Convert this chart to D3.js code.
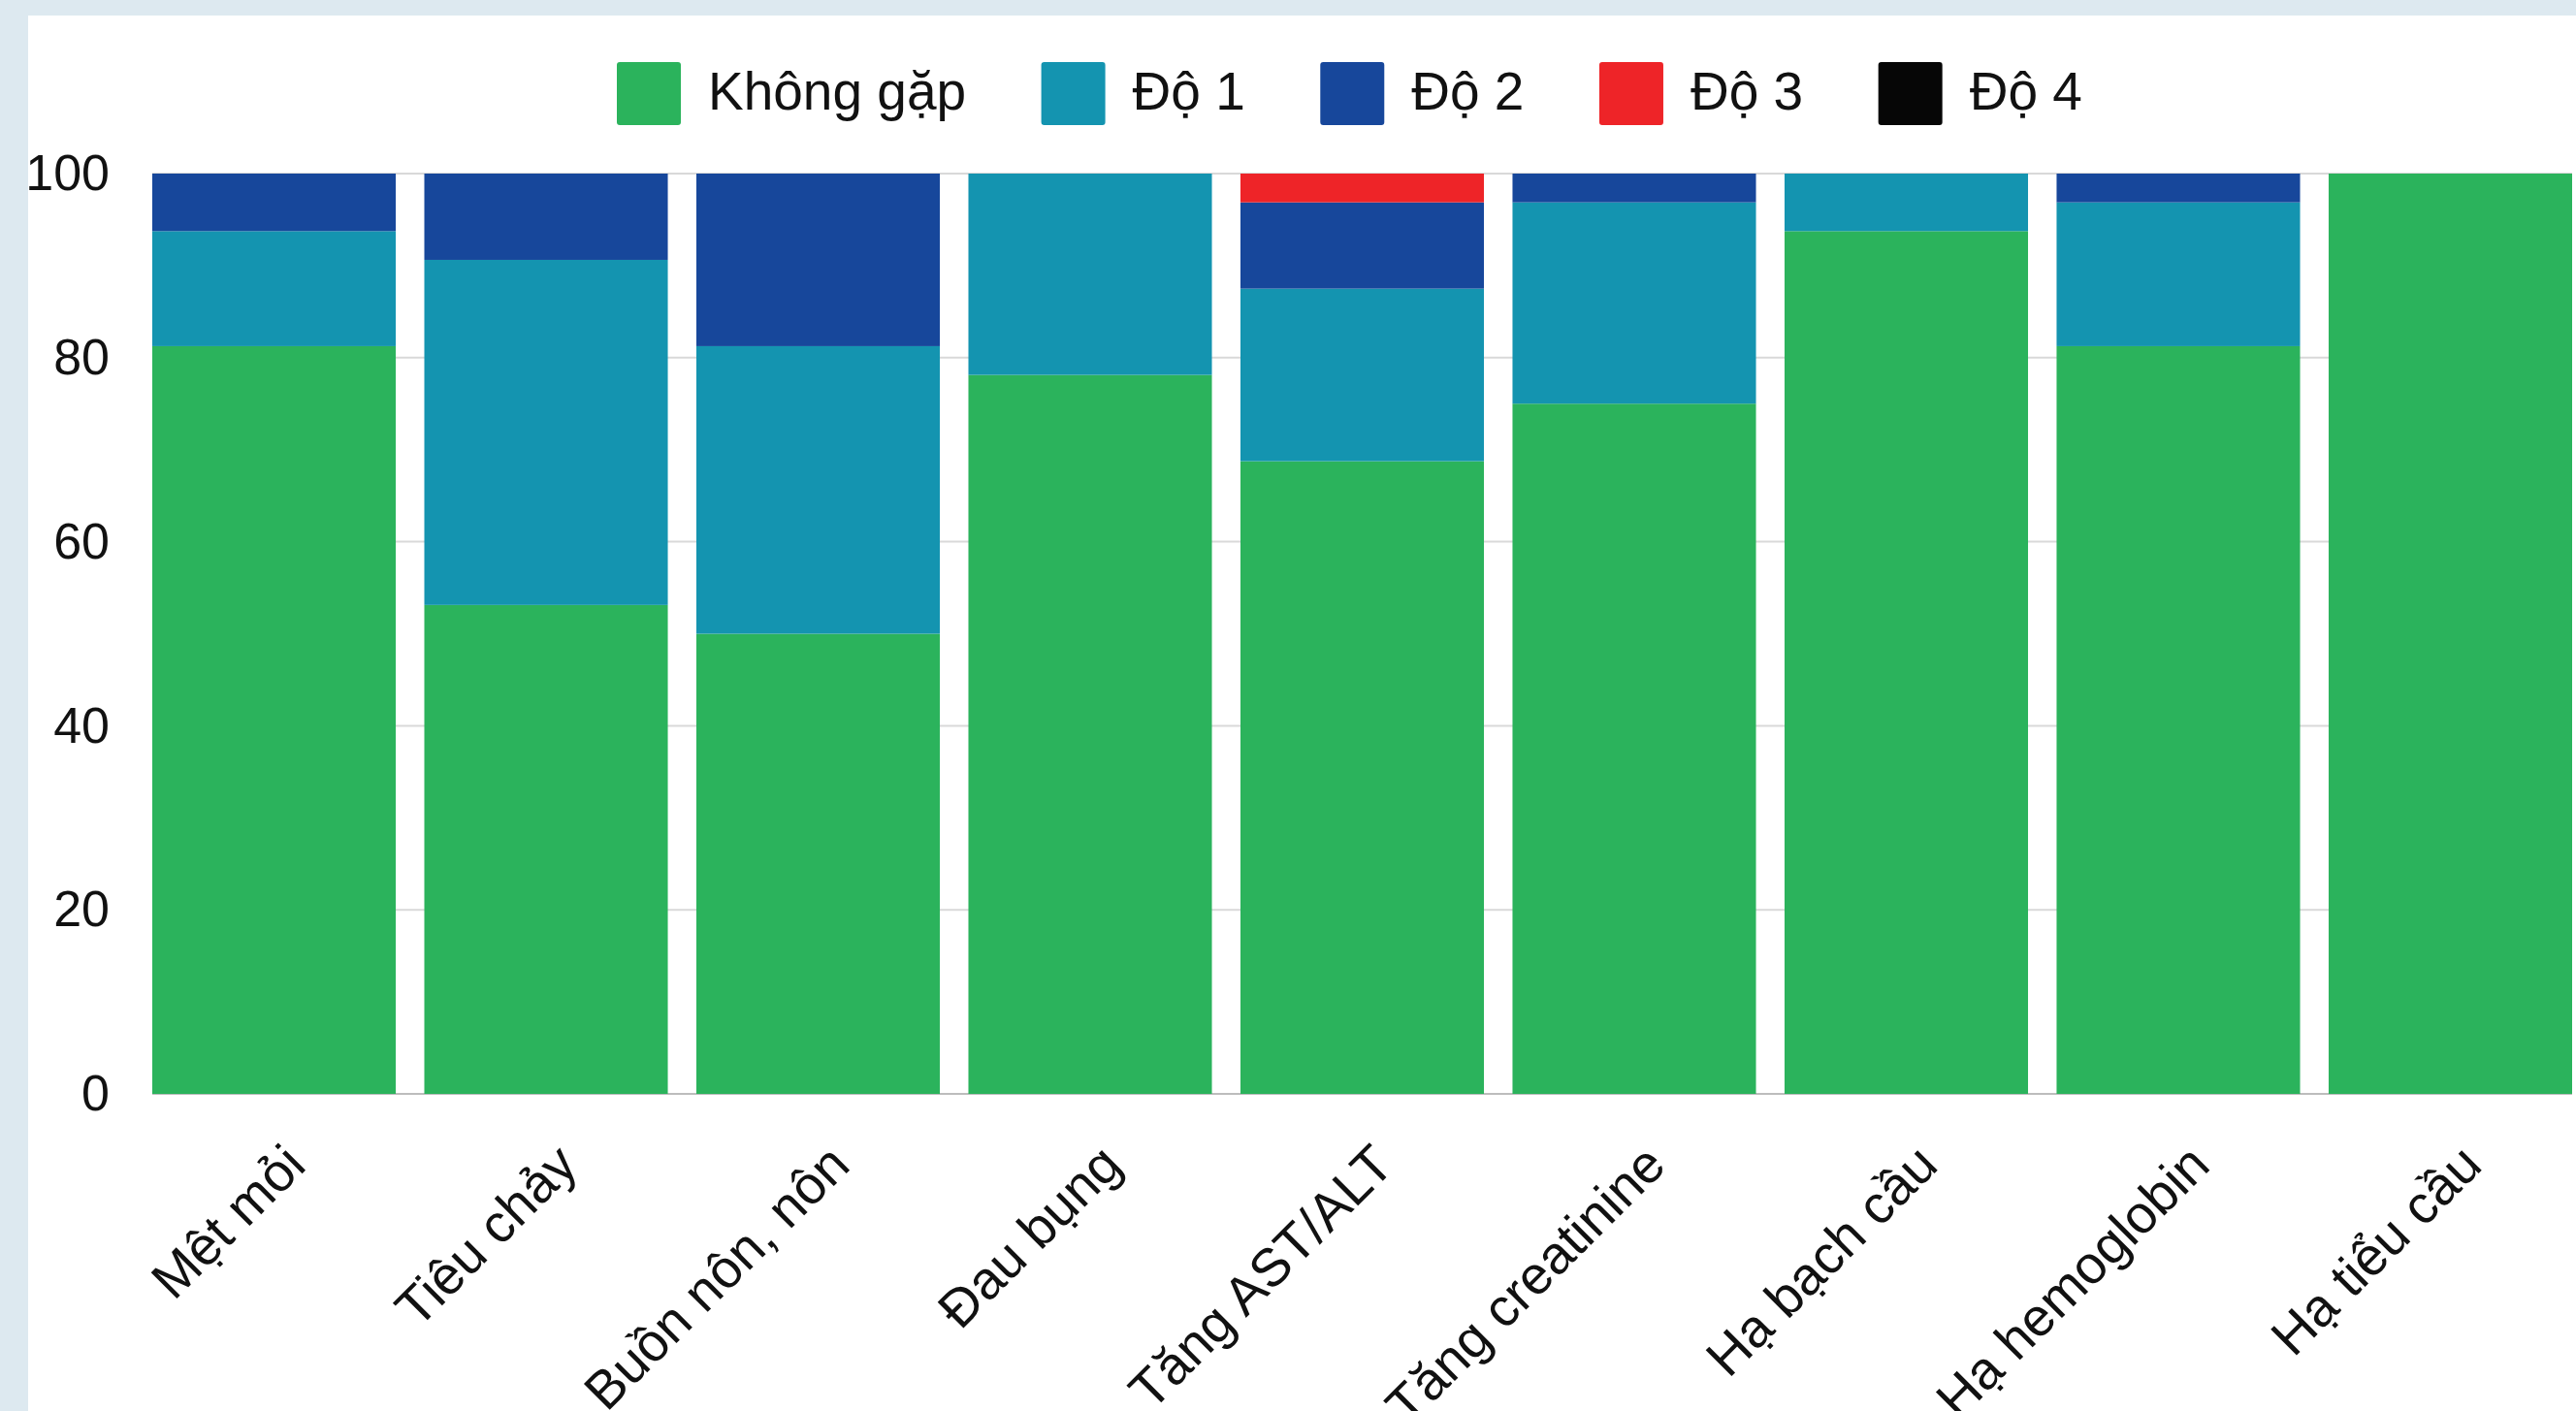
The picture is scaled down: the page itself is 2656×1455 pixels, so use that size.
<!DOCTYPE html>
<html>
<head>
<meta charset="utf-8">
<script src="https://cdn.jsdelivr.net/npm/d3@7"></script>
<style>
  html, body { margin: 0; padding: 0; background: #dde9f0; overflow: hidden; }
  svg { display: block; }
  text { font-family: "Liberation Sans", Arial, sans-serif; fill: #111; }
</style>
</head>
<body>
<svg id="chart" width="2656" height="1455"></svg>
<script>
// Adverse events by grade (% of patients)
const categories = ["Mệt mỏi", "Tiêu chảy", "Buồn nôn, nôn", "Đau bụng", "Tăng AST/ALT",
                    "Tăng creatinine", "Hạ bạch cầu", "Hạ hemoglobin", "Hạ tiểu cầu"];
const seriesNames = ["Không gặp", "Độ 1", "Độ 2", "Độ 3", "Độ 4"];
const khongGap = [81.25, 53.125, 50, 78.125, 68.75, 75, 93.75, 81.25, 100];
const do1      = [12.5, 37.5, 31.25, 21.875, 18.75, 21.875, 6.25, 15.625, 0];
const do2      = [6.25, 9.375, 18.75, 0, 9.375, 3.125, 0, 3.125, 0];
const do3      = [0, 0, 0, 0, 3.125, 0, 0, 0, 0];
const do4      = [0, 0, 0, 0, 0, 0, 0, 0, 0];
const yTicks   = [0, 20, 40, 60, 80, 100];
const colors   = ["#2bb35c", "#1494b0", "#17479b", "#ee2428", "#060606"];

const seriesValues = [khongGap, do1, do2, do3, do4];
const rows = categories.map((c, i) => {
  const r = { cat: c };
  seriesNames.forEach((s, k) => { r[s] = seriesValues[k][i]; });
  return r;
});

const svg = d3.select("#chart");

// white card
svg.append("rect").attr("x", 29).attr("y", 16).attr("width", 2656 - 29).attr("height", 1455 - 16)
  .attr("fill", "#ffffff");

const plotLeft = 157, plotRight = 2652, plotTop = 179, plotBottom = 1128;

const x = d3.scaleBand().domain(categories).range([plotLeft, plotRight]).paddingInner(0.105).paddingOuter(0);
const y = d3.scaleLinear().domain([0, 100]).range([plotBottom, plotTop]);

// horizontal grid
svg.append("g").selectAll("line").data(yTicks).join("line")
  .attr("x1", plotLeft).attr("x2", plotRight)
  .attr("y1", d => y(d)).attr("y2", d => y(d))
  .attr("stroke", d => d === 0 ? "#bdbdbd" : "#d9d9d9")
  .attr("stroke-width", 2);

// stacked bars
const stack = d3.stack().keys(seriesNames);
const layers = stack(rows);
svg.append("g").selectAll("g").data(layers).join("g")
  .attr("fill", (d, i) => colors[i])
  .selectAll("rect").data(d => d).join("rect")
  .attr("x", d => x(d.data.cat))
  .attr("width", x.bandwidth())
  .attr("y", d => y(d[1]))
  .attr("height", d => Math.max(0, y(d[0]) - y(d[1])));

// y axis labels
const yAxis = svg.append("g").attr("transform", `translate(${plotLeft},0)`)
  .call(d3.axisLeft(y).tickValues(yTicks).tickSize(0).tickPadding(44).tickFormat(d3.format("d")));
yAxis.select(".domain").remove();
yAxis.selectAll("text").attr("font-size", 52).attr("font-family", "Liberation Sans, Arial, sans-serif")
  .attr("fill", "#111");

// x axis labels, rotated
const xAxis = svg.append("g").attr("transform", `translate(0,${plotBottom})`)
  .call(d3.axisBottom(x).tickSize(0).tickPadding(0));
xAxis.select(".domain").remove();
xAxis.selectAll("text")
  .attr("font-size", 55)
  .attr("font-family", "Liberation Sans, Arial, sans-serif")
  .attr("fill", "#111")
  .attr("text-anchor", "end")
  .attr("dy", null)
  .attr("y", null)
  .attr("transform", "translate(35,76) rotate(-45)");

// legend
const legend = svg.append("g");
let lx = 636;
seriesNames.forEach((s, i) => {
  const g = legend.append("g").attr("transform", `translate(${lx},0)`);
  g.append("rect").attr("x", 0).attr("y", 64).attr("width", 66).attr("height", 65)
    .attr("rx", 3).attr("fill", colors[i]);
  const t = g.append("text").attr("x", 94).attr("y", 113).attr("font-size", 55).text(s);
  lx += 94 + t.node().getComputedTextLength() + 77.5;
});
</script>
</body>
</html>
